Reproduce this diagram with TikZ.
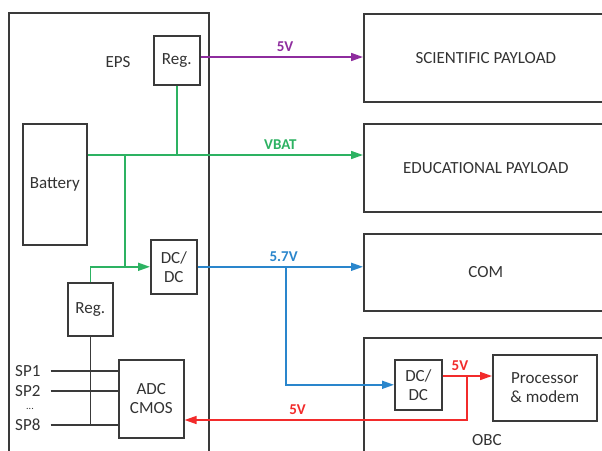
\documentclass[tikz,border=0pt]{standalone}
\usepackage{fontspec}
\setmainfont{Carlito}
\usetikzlibrary{arrows.meta, positioning, calc}
\definecolor{vpurple}{HTML}{8E2C9E}
\definecolor{vgreen}{HTML}{2DB262}
\definecolor{vblue}{HTML}{2A86CC}
\definecolor{vred}{HTML}{F22B2B}
\definecolor{boxgray}{HTML}{3A3A3A}
\tikzset{
    powerdiagram/.style={>={Triangle[length=12pt, width=8pt]}, x=1pt, y=-1pt,
        font=\fontsize{17}{19}\selectfont, text=black!80},
    block/.style={draw=boxgray, line width=1.6pt, align=center, inner sep=0pt, anchor=north west},
    bus/.style={line width=1.6pt},
    wire/.style={draw=boxgray, line width=1.6pt},
    volt/.style={font=\bfseries\fontsize{15}{18}\selectfont, above=1pt},
}

\begin{document}
\begin{tikzpicture}[powerdiagram]
    \clip (0,0) rectangle (602,450);
    \fill[white] (0,0) rectangle (602,450);

    % EPS side
    \draw[wire] (9,480) |- (209,13) -- (209,480);
    \node (epslabel) at (118,62) {EPS};
    \node[block, minimum width=46pt, minimum height=49pt] (reg1) at (153,35) {Reg.};
    \node[block, minimum width=64pt, minimum height=121pt] (bat) at (22,123) {Battery};
    \node[block, minimum width=46pt, minimum height=54pt] (dcdc1) at (150,239) {DC/\\DC};
    \node[block, minimum width=45pt, minimum height=53pt] (reg2) at (67,282) {Reg.};
    \node[block, minimum width=65pt, minimum height=78pt] (adc) at (118,359) {ADC\\CMOS};
    \node[anchor=west, inner sep=1pt] (sp1) at (14,371) {SP1};
    \node[anchor=west, inner sep=1pt] (sp2) at (14,391) {SP2};
    \node[font=\fontsize{10}{12}\selectfont, inner sep=0pt] (spdots) at (30,409) {...};
    \node[anchor=west, inner sep=1pt] (sp8) at (14,425) {SP8};

    % subsystems
    \node[block, minimum width=244pt, minimum height=88pt] (sci) at (363,13) {SCIENTIFIC PAYLOAD};
    \node[block, minimum width=244pt, minimum height=88pt] (edu) at (363,123) {EDUCATIONAL PAYLOAD};
    \node[block, minimum width=244pt, minimum height=77pt] (com) at (363,233) {COM};
    \node[block, minimum width=250pt, minimum height=140pt] (obc) at (363,337) {};
    \node (obclabel) at (487,440) {OBC};
    \node[block, minimum width=47pt, minimum height=50pt] (dcdc2) at (394,359) {DC/\\DC};
    \node[block, minimum width=104pt, minimum height=66pt] (proc) at (492,354) {Processor\\\& modem};

    \coordinate (vbat) at (bat.east |- 0,155);
    \coordinate (tap) at (125,155);
    \coordinate (split) at (286,266);
    \coordinate (obcout) at (dcdc2.east |- 0,376);
    \coordinate (obctap) at (467,376);
    \coordinate (adcin) at (adc.east |- 0,420);

    % 5V to scientific payload
    \draw[bus, vpurple, ->] (reg1.east |- 0,57) -- node[volt, pos=0.52] {5V} (sci.west |- 0,57);

    % battery bus
    \draw[bus, vgreen, ->] (vbat) -- node[volt, pos=0.7] {VBAT} (vbat -| edu.west);
    \draw[bus, vgreen] (reg1.south) -- (reg1.south |- vbat);
    \draw[bus, vgreen, ->] (tap) |- (dcdc1.west);
    \draw[bus, vgreen] (reg2.north) |- (tap |- dcdc1.west);

    % 5.7V to COM and OBC
    \draw[bus, vblue, ->] (dcdc1.east) -- node[volt, pos=0.52] {5.7V} (dcdc1.east -| com.west);
    \draw[bus, vblue, ->] (split) |- (dcdc2.west);

    % 5V inside OBC and back to ADC
    \draw[bus, vred, ->] (obcout) -- node[volt, pos=0.35] {5V} (obcout -| proc.west);
    \draw[bus, vred, ->] (obctap) |- node[volt, pos=0.8] {5V} (adcin);

    % solar panel inputs
    \draw[wire] (reg2.south) -- (reg2.south |- sp8);
    \draw[wire, shorten <=9pt] (sp1.east) -- (sp1 -| adc.west);
    \draw[wire, shorten <=9pt] (sp2.east) -- (sp2 -| adc.west);
    \draw[wire, shorten <=9pt] (sp8.east) -- (sp8 -| adc.west);
\end{tikzpicture}
\end{document}
